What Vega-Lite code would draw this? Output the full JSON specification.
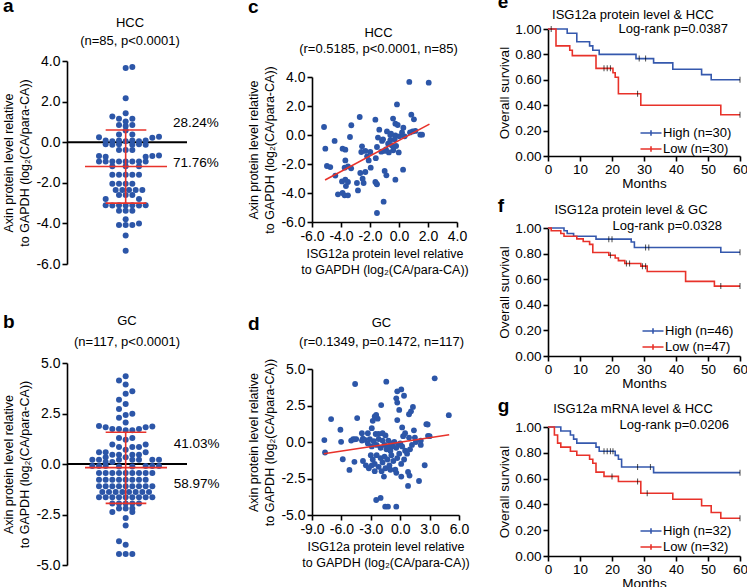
{
"$schema": "https://vega.github.io/schema/vega-lite/v6.json",
"padding": {"left": 2, "top": -8, "right": 0, "bottom": 0},
"config": {
  "font": "Liberation Sans",
  "view": {"stroke": null},
  "axis": {"grid": false, "domainColor": "#000", "domainWidth": 1.6, "tickColor": "#000", "tickWidth": 1.6, "tickSize": 5, "labelColor": "#000", "labelFontSize": 14, "labelPadding": 2, "labelOverlap": false, "labelFlush": false, "titleColor": "#000", "titleFontWeight": "normal", "titleFontSize": 12.5, "titleLineHeight": 16, "labelFont": "Liberation Sans", "titleFont": "Liberation Sans"},
  "title": {"fontWeight": "normal", "fontSize": 13, "color": "#000", "font": "Liberation Sans"},
  "legend": {"labelFontSize": 12.5, "labelColor": "#000", "labelFont": "Liberation Sans"}
},
"spacing": 27,
"resolve": {"scale": {"color": "independent"}, "legend": {"color": "independent"}},
"hconcat": [
 {
  "spacing": 4,
  "vconcat": [
   {"width": 10, "height": 1, "data": {"values": [{}]}, "mark": {"type": "point", "size": 0, "opacity": 0}},
   {
  "spacing": 42,
  "vconcat": [
   {
    "title": {"text": "a", "anchor": "start", "frame": "bounds", "fontSize": 19, "fontWeight": "bold", "offset": 1},
    "vconcat": [{
     "width": 120, "height": 203,
     "title": {"text": ["HCC", "(n=85, p<0.0001)"], "lineHeight": 18, "offset": 6, "dx": 3, "frame": "group"},
     "data": {"values": [
      {"k":"z","x":-8.8,"x2":9.2,"y":0},
      {"k":"p","x":0,"y":3.65},{"k":"p","x":1,"y":3.7},{"k":"p","x":0,"y":2.17},{"k":"p","x":0,"y":1.43},{"k":"p","x":-2,"y":1.27},{"k":"p","x":-1,"y":1.15},{"k":"p","x":1,"y":1.15},{"k":"p","x":0,"y":1.02},{"k":"p","x":-1,"y":0.85},{"k":"p","x":0,"y":0.8},{"k":"p","x":1,"y":0.85},{"k":"p","x":0,"y":0.58},{"k":"p","x":-1,"y":0.38},{"k":"p","x":1,"y":0.38},{"k":"p","x":-4,"y":0.25},{"k":"p","x":4,"y":0.22},{"k":"p","x":5,"y":0.27},{"k":"p","x":-3,"y":0.08},{"k":"p","x":-2,"y":0.05},{"k":"p","x":-1,"y":0.08},{"k":"p","x":0,"y":0.05},{"k":"p","x":1,"y":0.08},{"k":"p","x":2,"y":0.05},{"k":"p","x":3,"y":0.08},
      {"k":"p","x":-3,"y":-0.1},{"k":"p","x":-2,"y":-0.12},{"k":"p","x":-1,"y":-0.1},{"k":"p","x":1,"y":-0.12},{"k":"p","x":2,"y":-0.1},{"k":"p","x":3,"y":-0.12},
      {"k":"p","x":-1,"y":-0.38},{"k":"p","x":0,"y":-0.38},{"k":"p","x":1,"y":-0.38},
      {"k":"p","x":-4,"y":-0.68},{"k":"p","x":-3,"y":-0.72},{"k":"p","x":3,"y":-0.72},{"k":"p","x":4,"y":-0.68},{"k":"p","x":5,"y":-0.65},
      {"k":"p","x":-4,"y":-0.95},{"k":"p","x":-3,"y":-0.95},{"k":"p","x":-2,"y":-0.95},{"k":"p","x":-1,"y":-0.95},{"k":"p","x":0,"y":-0.95},{"k":"p","x":1,"y":-0.95},{"k":"p","x":2,"y":-0.95},{"k":"p","x":3,"y":-0.95},
      {"k":"p","x":-2,"y":-1.18},{"k":"p","x":0,"y":-1.18},{"k":"p","x":2,"y":-1.18},
      {"k":"p","x":-2,"y":-1.6},{"k":"p","x":-1,"y":-1.6},{"k":"p","x":0,"y":-1.6},{"k":"p","x":1,"y":-1.6},{"k":"p","x":2,"y":-1.6},
      {"k":"p","x":-2,"y":-2.05},{"k":"p","x":-1,"y":-2.05},{"k":"p","x":0,"y":-2.05},{"k":"p","x":1,"y":-2.05},
      {"k":"p","x":-1.5,"y":-2.35},{"k":"p","x":-0.5,"y":-2.35},{"k":"p","x":0.5,"y":-2.35},{"k":"p","x":1.5,"y":-2.35},{"k":"p","x":2.5,"y":-2.35},
      {"k":"p","x":-1,"y":-2.6},{"k":"p","x":0,"y":-2.6},{"k":"p","x":1,"y":-2.6},
      {"k":"p","x":-3,"y":-2.8},{"k":"p","x":2,"y":-2.8},
      {"k":"p","x":-3,"y":-3.1},{"k":"p","x":-2,"y":-3.12},{"k":"p","x":-1,"y":-3.1},{"k":"p","x":0,"y":-3.12},{"k":"p","x":1,"y":-3.1},{"k":"p","x":2,"y":-3.12},{"k":"p","x":3,"y":-3.1},
      {"k":"p","x":-1,"y":-3.38},{"k":"p","x":0,"y":-3.38},{"k":"p","x":1,"y":-3.38},
      {"k":"p","x":0,"y":-3.8},
      {"k":"p","x":-1,"y":-4.08},{"k":"p","x":0,"y":-4.08},{"k":"p","x":1,"y":-4.08},{"k":"p","x":2,"y":-4.0},
      {"k":"p","x":0,"y":-4.6},{"k":"p","x":0,"y":-5.35},
      {"k":"r","x":-6.1,"x2":6.2,"y":-1.2,"y2":-1.2},
      {"k":"r","x":-3.0,"x2":3.1,"y":0.6,"y2":0.6},
      {"k":"r","x":-3.0,"x2":3.1,"y":-3.0,"y2":-3.0},
      {"k":"r","x":0,"x2":0,"y":0.6,"y2":-3.0},
      {"k":"t","x":7.1,"y":0.97,"t":"28.24%"},
      {"k":"t","x":7.1,"y":-1.0,"t":"71.76%"}
     ]},
     "encoding": {
      "x": {"field": "x", "type": "quantitative", "scale": {"domain": [-8.8, 9.2], "nice": false, "zero": false}, "axis": null},
      "y": {"field": "y", "type": "quantitative", "scale": {"domain": [-6, 4], "nice": false, "zero": false}, "axis": {"values": [-6, -4, -2, 0, 2, 4], "labelExpr": "(datum.value<0?'-':'')+format(abs(datum.value),'.1f')", "title": ["Axin protein level relative", "to GAPDH (log₂(CA/para-CA))"], "titlePadding": 4}}
     },
     "layer": [
      {"transform": [{"filter": "datum.k=='z'"}], "mark": {"type": "rule", "color": "#000", "strokeWidth": 2}, "encoding": {"x2": {"field": "x2"}}},
      {"transform": [{"filter": "datum.k=='p'"}], "mark": {"type": "circle", "size": 36, "color": "#2c56a8", "opacity": 1}},
      {"transform": [{"filter": "datum.k=='r'"}], "mark": {"type": "rule", "color": "#e8322a", "strokeWidth": 1.6}, "encoding": {"x2": {"field": "x2"}, "y2": {"field": "y2"}}},
      {"transform": [{"filter": "datum.k=='t'"}], "mark": {"type": "text", "align": "left", "baseline": "middle", "fontSize": 13.5, "clip": false}, "encoding": {"text": {"field": "t"}}}
     ]
    }]
   },
   {
    "title": {"text": "b", "anchor": "start", "frame": "bounds", "fontSize": 19, "fontWeight": "bold", "offset": -17},
    "vconcat": [{
     "width": 120, "height": 202,
     "title": {"text": ["GC", "(n=117, p<0.0001)"], "lineHeight": 21, "offset": 7, "frame": "group"},
     "data": {"values": [
      {"k":"z","x":-8.8,"x2":9.2,"y":0},
      {"k":"p","x":0,"y":4.34},{"k":"p","x":-1,"y":4.13},{"k":"p","x":0,"y":3.93},{"k":"p","x":1,"y":3.6},{"k":"p","x":0,"y":3.48},{"k":"p","x":-1,"y":3.18},{"k":"p","x":0,"y":2.97},{"k":"p","x":-1,"y":2.72},{"k":"p","x":1,"y":2.49},{"k":"p","x":0,"y":2.43},{"k":"p","x":-1,"y":2.29},{"k":"p","x":0,"y":2.06},
      {"k":"p","x":-4,"y":1.88},{"k":"p","x":4,"y":1.86},{"k":"p","x":-3,"y":1.82},{"k":"p","x":3,"y":1.82},{"k":"p","x":-2,"y":1.73},{"k":"p","x":-1,"y":1.73},{"k":"p","x":2,"y":1.73},{"k":"p","x":0,"y":1.67},{"k":"p","x":1,"y":1.67},
      {"k":"p","x":-1,"y":1.29},{"k":"p","x":1,"y":1.29},{"k":"p","x":0,"y":1.2},
      {"k":"p","x":-2,"y":0.96},{"k":"p","x":3,"y":0.96},{"k":"p","x":-1,"y":0.84},{"k":"p","x":1,"y":0.84},{"k":"p","x":2,"y":0.84},{"k":"p","x":0,"y":0.7},
      {"k":"p","x":-4,"y":0.58},{"k":"p","x":-3,"y":0.58},{"k":"p","x":3,"y":0.58},
      {"k":"p","x":-2,"y":0.46},{"k":"p","x":-1,"y":0.46},{"k":"p","x":1,"y":0.46},{"k":"p","x":2,"y":0.46},
      {"k":"p","x":-3,"y":0.33},{"k":"p","x":0,"y":0.33},
      {"k":"p","x":-5,"y":0.21},{"k":"p","x":-4,"y":0.21},{"k":"p","x":-1,"y":0.21},{"k":"p","x":1,"y":0.21},{"k":"p","x":2,"y":0.21},{"k":"p","x":4,"y":0.21},{"k":"p","x":5,"y":0.21},
      {"k":"p","x":-3,"y":0.1},{"k":"p","x":-2,"y":0.1},
      {"k":"p","x":-5,"y":-0.1},{"k":"p","x":-4,"y":-0.1},{"k":"p","x":-3,"y":-0.1},{"k":"p","x":-1,"y":-0.12},{"k":"p","x":1,"y":-0.12},{"k":"p","x":3,"y":-0.1},{"k":"p","x":4,"y":-0.1},{"k":"p","x":5,"y":-0.1},
      {"k":"p","x":-4,"y":-0.45},{"k":"p","x":-3,"y":-0.45},{"k":"p","x":-2,"y":-0.45},{"k":"p","x":-1,"y":-0.45},{"k":"p","x":0,"y":-0.45},{"k":"p","x":1,"y":-0.45},{"k":"p","x":2,"y":-0.45},{"k":"p","x":3,"y":-0.45},{"k":"p","x":4,"y":-0.45},
      {"k":"p","x":-4,"y":-0.78},{"k":"p","x":-3,"y":-0.78},{"k":"p","x":-2,"y":-0.78},{"k":"p","x":-1,"y":-0.78},{"k":"p","x":0,"y":-0.78},{"k":"p","x":1,"y":-0.78},{"k":"p","x":2,"y":-0.78},{"k":"p","x":3,"y":-0.78},
      {"k":"p","x":-4,"y":-1.1},{"k":"p","x":-3,"y":-1.1},{"k":"p","x":-2,"y":-1.1},{"k":"p","x":-1,"y":-1.1},{"k":"p","x":0,"y":-1.1},{"k":"p","x":1,"y":-1.1},{"k":"p","x":2,"y":-1.1},{"k":"p","x":3,"y":-1.1},{"k":"p","x":4,"y":-1.1},
      {"k":"p","x":-3.5,"y":-1.38},{"k":"p","x":-2.5,"y":-1.38},{"k":"p","x":-1.5,"y":-1.38},{"k":"p","x":-0.5,"y":-1.38},{"k":"p","x":0.5,"y":-1.38},{"k":"p","x":1.5,"y":-1.38},{"k":"p","x":2.5,"y":-1.38},{"k":"p","x":3.5,"y":-1.38},
      {"k":"p","x":-4,"y":-1.65},{"k":"p","x":-3,"y":-1.65},{"k":"p","x":-2,"y":-1.65},{"k":"p","x":-1,"y":-1.65},{"k":"p","x":0,"y":-1.65},{"k":"p","x":1,"y":-1.65},{"k":"p","x":2,"y":-1.65},{"k":"p","x":3,"y":-1.65},{"k":"p","x":4,"y":-1.65},
      {"k":"p","x":-2,"y":-1.95},{"k":"p","x":-1,"y":-1.95},{"k":"p","x":0,"y":-1.95},{"k":"p","x":1,"y":-1.95},{"k":"p","x":2,"y":-1.95},
      {"k":"p","x":-1,"y":-2.2},{"k":"p","x":0,"y":-2.2},{"k":"p","x":1,"y":-2.2},
      {"k":"p","x":-2,"y":-2.38},{"k":"p","x":1,"y":-2.38},
      {"k":"p","x":0,"y":-2.67},{"k":"p","x":0,"y":-3.04},{"k":"p","x":-1,"y":-3.83},{"k":"p","x":0,"y":-4.0},
      {"k":"p","x":-1,"y":-4.45},{"k":"p","x":0,"y":-4.45},{"k":"p","x":1,"y":-4.45},
      {"k":"r","x":-6.1,"x2":6.2,"y":-0.18,"y2":-0.18},
      {"k":"r","x":-3.0,"x2":3.1,"y":1.57,"y2":1.57},
      {"k":"r","x":-3.0,"x2":3.1,"y":-1.95,"y2":-1.95},
      {"k":"r","x":0,"x2":0,"y":1.57,"y2":-1.95},
      {"k":"t","x":7.2,"y":0.97,"t":"41.03%"},
      {"k":"t","x":7.2,"y":-1.0,"t":"58.97%"}
     ]},
     "encoding": {
      "x": {"field": "x", "type": "quantitative", "scale": {"domain": [-8.8, 9.2], "nice": false, "zero": false}, "axis": null},
      "y": {"field": "y", "type": "quantitative", "scale": {"domain": [-5, 5], "nice": false, "zero": false}, "axis": {"values": [-5, -2.5, 0, 2.5, 5], "labelExpr": "(datum.value<0?'-':'')+format(abs(datum.value),'.1f')", "title": ["Axin protein level relative", "to GAPDH (log₂(CA/para-CA))"], "titlePadding": 4}}
     },
     "layer": [
      {"transform": [{"filter": "datum.k=='z'"}], "mark": {"type": "rule", "color": "#000", "strokeWidth": 2}, "encoding": {"x2": {"field": "x2"}}},
      {"transform": [{"filter": "datum.k=='p'"}], "mark": {"type": "circle", "size": 36, "color": "#2c56a8", "opacity": 1}},
      {"transform": [{"filter": "datum.k=='r'"}], "mark": {"type": "rule", "color": "#e8322a", "strokeWidth": 1.6}, "encoding": {"x2": {"field": "x2"}, "y2": {"field": "y2"}}},
      {"transform": [{"filter": "datum.k=='t'"}], "mark": {"type": "text", "align": "left", "baseline": "middle", "fontSize": 13.5, "clip": false}, "encoding": {"text": {"field": "t"}}}
     ]
    }]
   }
  ]
   }
  ]
 },
 {
  "spacing": 4,
  "vconcat": [
   {"width": 10, "height": 1, "data": {"values": [{}]}, "mark": {"type": "point", "size": 0, "opacity": 0}},
   {
  "spacing": 39,
  "vconcat": [
   {
    "title": {"text": "c", "anchor": "start", "frame": "bounds", "fontSize": 19, "fontWeight": "bold", "offset": 10},
    "vconcat": [{
     "width": 145, "height": 145,
     "title": {"text": ["HCC", "(r=0.5185, p<0.0001, n=85)"], "lineHeight": 16, "offset": 10, "dx": -6, "frame": "group"},
     "data": {"values": [
      {"k":"p","x":0.71,"y":3.66},{"k":"p","x":2.05,"y":3.61},{"k":"p","x":-0.14,"y":2.11},{"k":"p","x":-2.71,"y":1.24},{"k":"p","x":-1.63,"y":1.06},{"k":"p","x":-0.41,"y":1.13},{"k":"p","x":0.85,"y":1.4},{"k":"p","x":1.03,"y":1.08},{"k":"p","x":-5.17,"y":0.55},{"k":"p","x":-3.29,"y":0.67},
      {"k":"p","x":-0.25,"y":0.78},{"k":"p","x":-0.09,"y":0.69},{"k":"p","x":-1.36,"y":0.37},{"k":"p","x":-0.83,"y":0.25},{"k":"p","x":-0.55,"y":0.09},{"k":"p","x":-0.25,"y":-0.02},{"k":"p","x":0.02,"y":-0.09},{"k":"p","x":0.21,"y":0.18},{"k":"p","x":0.39,"y":-0.09},{"k":"p","x":0.76,"y":0.18},
      {"k":"p","x":0.94,"y":0.25},{"k":"p","x":1.13,"y":0.28},{"k":"p","x":1.47,"y":0.02},{"k":"p","x":1.59,"y":0.02},{"k":"p","x":-4.44,"y":-0.41},{"k":"p","x":-3.38,"y":-0.14},{"k":"p","x":-1.45,"y":-0.18},{"k":"p","x":-1.17,"y":-0.41},{"k":"p","x":-0.6,"y":-0.35},{"k":"p","x":-0.75,"y":-0.6},
      {"k":"p","x":-0.5,"y":-0.7},{"k":"p","x":-0.35,"y":-0.85},{"k":"p","x":-0.2,"y":-0.75},{"k":"p","x":-0.4,"y":-1.05},{"k":"p","x":-0.9,"y":-1.0},{"k":"p","x":-5.08,"y":-0.94},{"k":"p","x":-3.89,"y":-0.94},{"k":"p","x":-3.7,"y":-1.01},{"k":"p","x":-2.55,"y":-0.78},{"k":"p","x":-2.6,"y":-1.17},
      {"k":"p","x":-2.32,"y":-1.1},{"k":"p","x":-1.98,"y":-1.17},{"k":"p","x":-1.52,"y":-0.83},{"k":"p","x":-1.22,"y":-1.15},{"k":"p","x":-0.7,"y":-1.2},{"k":"p","x":-1.0,"y":-1.1},{"k":"p","x":-0.02,"y":-1.2},{"k":"p","x":-2.2,"y":-1.47},{"k":"p","x":-2.09,"y":-1.75},{"k":"p","x":-3.7,"y":-1.75},
      {"k":"p","x":-4.97,"y":-2.14},{"k":"p","x":-4.74,"y":-2.21},{"k":"p","x":-3.75,"y":-2.25},{"k":"p","x":-3.52,"y":-2.16},{"k":"p","x":-1.95,"y":-2.25},{"k":"p","x":-2.67,"y":-2.62},{"k":"p","x":-4.39,"y":-2.8},{"k":"p","x":-2.32,"y":-2.55},{"k":"p","x":-0.99,"y":-2.48},{"k":"p","x":-0.87,"y":-2.78},
      {"k":"p","x":0.28,"y":-2.39},{"k":"p","x":-0.25,"y":-3.08},{"k":"p","x":-3.93,"y":-3.2},{"k":"p","x":-3.7,"y":-3.08},{"k":"p","x":-3.52,"y":-3.24},{"k":"p","x":-3.66,"y":-3.52},{"k":"p","x":-2.9,"y":-3.31},{"k":"p","x":-2.51,"y":-3.01},{"k":"p","x":-2.44,"y":-3.31},{"k":"p","x":-1.63,"y":-3.24},
      {"k":"p","x":-1.52,"y":-3.4},{"k":"p","x":-2.83,"y":-3.82},{"k":"p","x":-4.21,"y":-4.09},{"k":"p","x":-3.89,"y":-4.0},{"k":"p","x":-3.75,"y":-4.16},{"k":"p","x":-3.52,"y":-4.16},{"k":"p","x":-1.06,"y":-4.6},{"k":"p","x":-1.52,"y":-5.38},{"k":"p","x":-0.6,"y":0.0},{"k":"p","x":-1.1,"y":-0.3},
      {"k":"p","x":0.3,"y":0.5},{"k":"p","x":-1.6,"y":-1.6},{"k":"p","x":-0.3,"y":-0.3},{"k":"p","x":-1.55,"y":-3.35},{"k":"p","x":-3.3,"y":-2.3},
      {"k":"f","x":-5.1,"y":-3.1,"x2":2.1,"y2":0.75}
     ]},
     "encoding": {
      "x": {"field": "x", "type": "quantitative", "scale": {"domain": [-6, 4], "nice": false, "zero": false}, "axis": {"values": [-6, -4, -2, 0, 2, 4], "labelExpr": "(datum.value<0?'-':'')+format(abs(datum.value),'.1f')", "title": ["ISG12a protein level relative", "to GAPDH (log₂(CA/para-CA))"], "titlePadding": 4}},
      "y": {"field": "y", "type": "quantitative", "scale": {"domain": [-6, 4], "nice": false, "zero": false}, "axis": {"values": [-6, -4, -2, 0, 2, 4], "labelExpr": "(datum.value<0?'-':'')+format(abs(datum.value),'.1f')", "title": ["Axin protein level relative", "to GAPDH (log₂(CA/para-CA))"], "titlePadding": 4}}
     },
     "layer": [
      {"transform": [{"filter": "datum.k=='p'"}], "mark": {"type": "circle", "size": 34, "color": "#2c56a8", "opacity": 1}},
      {"transform": [{"filter": "datum.k=='f'"}], "mark": {"type": "rule", "color": "#e8322a", "strokeWidth": 1.6}, "encoding": {"x2": {"field": "x2"}, "y2": {"field": "y2"}}}
     ]
    }]
   },
   {
    "title": {"text": "d", "anchor": "start", "frame": "bounds", "fontSize": 19, "fontWeight": "bold", "offset": -17},
    "vconcat": [{
     "width": 147, "height": 146,
     "title": {"text": ["GC", "(r=0.1349, p=0.1472, n=117)"], "lineHeight": 19, "offset": 9, "dx": -4, "frame": "group"},
     "data": {"values": [
      {"k":"p","x":-7.74,"y":0.13},{"k":"p","x":-7.67,"y":-0.72},{"k":"p","x":-7.05,"y":1.57},{"k":"p","x":-6.1,"y":0.84},{"k":"p","x":-6.03,"y":0.01},{"k":"p","x":-5.86,"y":-1.18},{"k":"p","x":-5.18,"y":-1.91},{"k":"p","x":-4.6,"y":3.97},{"k":"p","x":-4.49,"y":0.2},{"k":"p","x":-4.39,"y":1.64},
      {"k":"p","x":-4.67,"y":-1.36},{"k":"p","x":-5.0,"y":0.1},{"k":"p","x":-4.8,"y":0.2},{"k":"p","x":-4.65,"y":0.18},{"k":"p","x":-3.91,"y":0.6},{"k":"p","x":-3.81,"y":0.23},{"k":"p","x":-1.42,"y":4.13},{"k":"p","x":-0.3,"y":3.47},{"k":"p","x":0.11,"y":3.6},{"k":"p","x":0.39,"y":3.17},
      {"k":"p","x":-0.4,"y":2.99},{"k":"p","x":-0.3,"y":2.7},{"k":"p","x":3.52,"y":4.36},{"k":"p","x":4.96,"y":1.84},{"k":"p","x":2.67,"y":1.22},{"k":"p","x":2.84,"y":0.42},{"k":"p","x":2.1,"y":-0.2},{"k":"p","x":2.5,"y":-1.59},{"k":"p","x":1.92,"y":-2.67},{"k":"p","x":0.8,"y":-2.05},
      {"k":"p","x":0.95,"y":-2.3},{"k":"p","x":0.11,"y":-2.37},{"k":"p","x":0.8,"y":-3.01},{"k":"p","x":-0.4,"y":-2.11},{"k":"p","x":-1.66,"y":-2.37},{"k":"p","x":-2.45,"y":-3.97},{"k":"p","x":-2.0,"y":-3.83},{"k":"p","x":-1.53,"y":-4.43},{"k":"p","x":-1.25,"y":-4.43},{"k":"p","x":-0.4,"y":-4.43},
      {"k":"p","x":-2.8,"y":1.45},{"k":"p","x":-2.6,"y":1.75},{"k":"p","x":-2.45,"y":1.85},{"k":"p","x":-2.3,"y":1.6},{"k":"p","x":-1.94,"y":2.53},{"k":"p","x":-3.3,"y":0.6},{"k":"p","x":-2.9,"y":0.95},{"k":"p","x":-2.5,"y":0.55},{"k":"p","x":-2.2,"y":0.55},{"k":"p","x":-1.8,"y":0.6},
      {"k":"p","x":-1.5,"y":0.45},{"k":"p","x":-1.2,"y":0.1},{"k":"p","x":-0.9,"y":-0.1},{"k":"p","x":-0.3,"y":1.5},{"k":"p","x":-0.1,"y":2.2},{"k":"p","x":0.2,"y":1.0},{"k":"p","x":0.5,"y":0.6},{"k":"p","x":0.3,"y":0.4},{"k":"p","x":0.9,"y":1.9},{"k":"p","x":1.1,"y":2.1},
      {"k":"p","x":1.3,"y":2.4},{"k":"p","x":1.4,"y":0.8},{"k":"p","x":1.5,"y":0.3},{"k":"p","x":0.9,"y":0.3},{"k":"p","x":2.8,"y":1.2},{"k":"p","x":3.0,"y":0.4},{"k":"p","x":2.1,"y":0.1},
      {"k":"p","x":-3.9,"y":0.1},{"k":"p","x":-3.6,"y":0.15},{"k":"p","x":-3.3,"y":-0.1},{"k":"p","x":-3.1,"y":0.2},{"k":"p","x":-2.9,"y":-0.3},{"k":"p","x":-2.7,"y":0.05},{"k":"p","x":-2.4,"y":-0.2},{"k":"p","x":-2.2,"y":0.2},{"k":"p","x":-2.0,"y":-0.4},{"k":"p","x":-1.8,"y":0.1},
      {"k":"p","x":-1.6,"y":-0.2},{"k":"p","x":-1.4,"y":-0.5},{"k":"p","x":-1.2,"y":-0.3},{"k":"p","x":-1.0,"y":-0.6},{"k":"p","x":-0.8,"y":-0.3},{"k":"p","x":-0.6,"y":0.0},{"k":"p","x":-0.4,"y":-0.4},{"k":"p","x":-0.2,"y":-0.2},{"k":"p","x":0.0,"y":-0.1},{"k":"p","x":0.2,"y":-0.3},
      {"k":"p","x":0.5,"y":-0.6},{"k":"p","x":0.7,"y":-0.8},{"k":"p","x":1.0,"y":-0.5},{"k":"p","x":1.2,"y":-0.2},{"k":"p","x":1.6,"y":0.0},{"k":"p","x":-3.0,"y":-0.9},{"k":"p","x":-2.8,"y":-1.2},{"k":"p","x":-2.6,"y":-1.5},{"k":"p","x":-2.4,"y":-0.9},{"k":"p","x":-2.2,"y":-1.7},
      {"k":"p","x":-2.0,"y":-1.1},{"k":"p","x":-1.8,"y":-1.4},{"k":"p","x":-1.6,"y":-1.0},{"k":"p","x":-1.5,"y":-1.8},{"k":"p","x":-1.3,"y":-1.2},{"k":"p","x":-1.1,"y":-1.6},{"k":"p","x":-0.9,"y":-0.9},{"k":"p","x":-0.7,"y":-1.3},{"k":"p","x":-0.5,"y":-1.9},{"k":"p","x":-0.3,"y":-1.1},
      {"k":"p","x":-0.1,"y":-0.8},{"k":"p","x":0.1,"y":-1.5},{"k":"p","x":0.4,"y":-1.2},{"k":"p","x":-3.5,"y":-1.6},{"k":"p","x":-3.2,"y":-1.8},{"k":"p","x":-2.6,"y":-2.0},{"k":"p","x":-1.9,"y":-2.0},{"k":"p","x":-1.0,"y":-1.9},{"k":"p","x":-3.8,"y":-1.3},{"k":"p","x":-2.9,"y":-1.6},
      {"k":"f","x":-7.8,"y":-0.8,"x2":5.0,"y2":0.5}
     ]},
     "encoding": {
      "x": {"field": "x", "type": "quantitative", "scale": {"domain": [-9, 6], "nice": false, "zero": false}, "axis": {"values": [-9, -6, -3, 0, 3, 6], "labelExpr": "(datum.value<0?'-':'')+format(abs(datum.value),'.1f')", "title": ["ISG12a protein level relative", "to GAPDH (log₂(CA/para-CA))"], "titlePadding": 4}},
      "y": {"field": "y", "type": "quantitative", "scale": {"domain": [-5, 5], "nice": false, "zero": false}, "axis": {"values": [-5, -2.5, 0, 2.5, 5], "labelExpr": "(datum.value<0?'-':'')+format(abs(datum.value),'.1f')", "title": ["Axin protein level relative", "to GAPDH (log₂(CA/para-CA))"], "titlePadding": 4}}
     },
     "layer": [
      {"transform": [{"filter": "datum.k=='p'"}], "mark": {"type": "circle", "size": 34, "color": "#2c56a8", "opacity": 1}},
      {"transform": [{"filter": "datum.k=='f'"}], "mark": {"type": "rule", "color": "#e8322a", "strokeWidth": 1.6}, "encoding": {"x2": {"field": "x2"}, "y2": {"field": "y2"}}}
     ]
    }]
   }
  ]
   }
  ]
 },
 {
  "spacing": 0,
  "resolve": {"scale": {"color": "independent"}, "legend": {"color": "independent"}},
  "vconcat": [
   {"width": 10, "height": 1, "data": {"values": [{}]}, "mark": {"type": "point", "size": 0, "opacity": 0}},
   {
  "spacing": 7,
  "resolve": {"scale": {"color": "independent"}, "legend": {"color": "independent"}},
  "vconcat": [
   {
    "title": {"text": "e", "anchor": "start", "frame": "bounds", "fontSize": 19, "fontWeight": "bold", "offset": -3},
    "vconcat": [{
     "width": 192, "height": 127,
     "title": {"text": "ISG12a protein level & HCC", "offset": 0, "dx": -11, "frame": "group"},
     "data": {"values": [
      {"k":"l","g":"High (n=30)","x":0,"y":1},{"k":"l","g":"High (n=30)","x":6,"y":0.967},{"k":"l","g":"High (n=30)","x":9,"y":0.9},{"k":"l","g":"High (n=30)","x":13,"y":0.867},{"k":"l","g":"High (n=30)","x":14,"y":0.833},{"k":"l","g":"High (n=30)","x":16,"y":0.8},{"k":"l","g":"High (n=30)","x":27.5,"y":0.767},{"k":"l","g":"High (n=30)","x":33,"y":0.733},{"k":"l","g":"High (n=30)","x":39,"y":0.683},{"k":"l","g":"High (n=30)","x":48,"y":0.641},{"k":"l","g":"High (n=30)","x":51,"y":0.6},{"k":"l","g":"High (n=30)","x":60,"y":0.6},
      {"k":"l","g":"Low (n=30)","x":0,"y":1},{"k":"l","g":"Low (n=30)","x":2.5,"y":0.867},{"k":"l","g":"Low (n=30)","x":6.8,"y":0.833},{"k":"l","g":"Low (n=30)","x":7.6,"y":0.79},{"k":"l","g":"Low (n=30)","x":15,"y":0.69},{"k":"l","g":"Low (n=30)","x":20.3,"y":0.655},{"k":"l","g":"Low (n=30)","x":21,"y":0.62},{"k":"l","g":"Low (n=30)","x":22,"y":0.49},{"k":"l","g":"Low (n=30)","x":29,"y":0.4},{"k":"l","g":"Low (n=30)","x":54,"y":0.325},{"k":"l","g":"Low (n=30)","x":60,"y":0.325},
      {"k":"c","x":1,"y":1},{"k":"c","x":28.5,"y":0.767},{"k":"c","x":30.5,"y":0.767},{"k":"c","x":60,"y":0.6},{"k":"c","x":17.5,"y":0.69},{"k":"c","x":18.5,"y":0.69},{"k":"c","x":19.5,"y":0.69},{"k":"c","x":28,"y":0.49},{"k":"c","x":60,"y":0.325},
      {"k":"t","x":60,"y":1,"t":"Log-rank p=0.0387"}
     ]},
     "encoding": {
      "x": {"field": "x", "type": "quantitative", "scale": {"domain": [0, 60], "nice": false}, "axis": {"values": [0, 10, 20, 30, 40, 50, 60], "title": "Months", "titleFontSize": 13.5, "titlePadding": 1, "labelFontSize": 13.5, "labelPadding": 1}},
      "y": {"field": "y", "type": "quantitative", "scale": {"domain": [0, 1], "nice": false}, "axis": {"values": [0, 0.2, 0.4, 0.6, 0.8, 1], "format": ".2f", "title": "Overall survival", "titleFontSize": 13.5, "titlePadding": 3, "labelFontSize": 13.5}}
     },
     "layer": [
      {"transform": [{"filter": "datum.k=='l'"}], "mark": {"type": "line", "interpolate": "step-after", "strokeWidth": 1.6}, "encoding": {"color": {"field": "g", "type": "nominal", "scale": {"domain": ["High (n=30)", "Low (n=30)"], "range": ["#3558ad", "#e8322a"]}, "legend": {"title": null, "orient": "none", "legendX": 95, "legendY": 96, "symbolType": "M-1.5,0H1.5M0,-0.4V0.4", "symbolSize": 196, "symbolStrokeWidth": 1.6, "rowPadding": 1, "labelFontSize": 13}}}},
      {"transform": [{"filter": "datum.k=='c'"}], "mark": {"type": "tick", "orient": "vertical", "color": "#000", "size": 6, "thickness": 1}},
      {"transform": [{"filter": "datum.k=='t'"}], "mark": {"type": "text", "align": "right", "baseline": "middle", "dx": -12, "fontSize": 13}, "encoding": {"text": {"field": "t"}}}
     ]
    }]
   },
   {
  "spacing": 7,
  "resolve": {"scale": {"color": "independent"}, "legend": {"color": "independent"}},
  "vconcat": [
   {
    "title": {"text": "f", "anchor": "start", "frame": "bounds", "fontSize": 19, "fontWeight": "bold", "offset": -12},
    "vconcat": [{
     "width": 192, "height": 128,
     "title": {"text": "ISG12a protein level & GC", "offset": 3, "dx": -13, "frame": "group"},
     "data": {"values": [
      {"k":"l","g":"High (n=46)","x":0,"y":1},{"k":"l","g":"High (n=46)","x":5,"y":0.978},{"k":"l","g":"High (n=46)","x":6,"y":0.957},{"k":"l","g":"High (n=46)","x":8,"y":0.935},{"k":"l","g":"High (n=46)","x":15,"y":0.913},{"k":"l","g":"High (n=46)","x":26,"y":0.891},{"k":"l","g":"High (n=46)","x":27,"y":0.848},{"k":"l","g":"High (n=46)","x":54,"y":0.81},{"k":"l","g":"High (n=46)","x":60,"y":0.81},
      {"k":"l","g":"Low (n=47)","x":0,"y":1},{"k":"l","g":"Low (n=47)","x":1,"y":0.979},{"k":"l","g":"Low (n=47)","x":4,"y":0.957},{"k":"l","g":"Low (n=47)","x":5,"y":0.936},{"k":"l","g":"Low (n=47)","x":9,"y":0.915},{"k":"l","g":"Low (n=47)","x":11,"y":0.894},{"k":"l","g":"Low (n=47)","x":13,"y":0.872},{"k":"l","g":"Low (n=47)","x":14,"y":0.809},{"k":"l","g":"Low (n=47)","x":19,"y":0.787},{"k":"l","g":"Low (n=47)","x":21,"y":0.766},{"k":"l","g":"Low (n=47)","x":22,"y":0.745},{"k":"l","g":"Low (n=47)","x":24,"y":0.723},{"k":"l","g":"Low (n=47)","x":29,"y":0.702},{"k":"l","g":"Low (n=47)","x":31,"y":0.66},{"k":"l","g":"Low (n=47)","x":43,"y":0.583},{"k":"l","g":"Low (n=47)","x":52,"y":0.546},{"k":"l","g":"Low (n=47)","x":60,"y":0.546},
      {"k":"c","x":19,"y":0.913},{"k":"c","x":20,"y":0.913},{"k":"c","x":30.5,"y":0.848},{"k":"c","x":31.5,"y":0.848},{"k":"c","x":60,"y":0.81},{"k":"c","x":19.5,"y":0.787},{"k":"c","x":24.5,"y":0.723},{"k":"c","x":25.5,"y":0.723},{"k":"c","x":29.5,"y":0.702},{"k":"c","x":30.5,"y":0.702},{"k":"c","x":54,"y":0.546},{"k":"c","x":60,"y":0.546},
      {"k":"t","x":60,"y":1,"t":"Log-rank p=0.0328"}
     ]},
     "encoding": {
      "x": {"field": "x", "type": "quantitative", "scale": {"domain": [0, 60], "nice": false}, "axis": {"values": [0, 10, 20, 30, 40, 50, 60], "title": "Months", "titleFontSize": 13.5, "titlePadding": 1, "labelFontSize": 13.5, "labelPadding": 1}},
      "y": {"field": "y", "type": "quantitative", "scale": {"domain": [0, 1], "nice": false}, "axis": {"values": [0, 0.2, 0.4, 0.6, 0.8, 1], "format": ".2f", "title": "Overall survival", "titleFontSize": 13.5, "titlePadding": 3, "labelFontSize": 13.5}}
     },
     "layer": [
      {"transform": [{"filter": "datum.k=='l'"}], "mark": {"type": "line", "interpolate": "step-after", "strokeWidth": 1.6}, "encoding": {"color": {"field": "g", "type": "nominal", "scale": {"domain": ["High (n=46)", "Low (n=47)"], "range": ["#3558ad", "#e8322a"]}, "legend": {"title": null, "orient": "none", "legendX": 97, "legendY": 95, "symbolType": "M-1.5,0H1.5M0,-0.4V0.4", "symbolSize": 196, "symbolStrokeWidth": 1.6, "rowPadding": 1, "labelFontSize": 13}}}},
      {"transform": [{"filter": "datum.k=='c'"}], "mark": {"type": "tick", "orient": "vertical", "color": "#000", "size": 6, "thickness": 1}},
      {"transform": [{"filter": "datum.k=='t'"}], "mark": {"type": "text", "align": "right", "baseline": "middle", "dx": -18, "dy": -2, "fontSize": 13}, "encoding": {"text": {"field": "t"}}}
     ]
    }]
   },
   {
    "title": {"text": "g", "anchor": "start", "frame": "bounds", "fontSize": 19, "fontWeight": "bold", "offset": -13},
    "vconcat": [{
     "width": 192, "height": 129,
     "title": {"text": "ISG12a mRNA level & HCC", "offset": 3, "dx": -11, "frame": "group"},
     "data": {"values": [
      {"k":"l","g":"High (n=32)","x":0,"y":1},{"k":"l","g":"High (n=32)","x":4,"y":0.969},{"k":"l","g":"High (n=32)","x":7,"y":0.938},{"k":"l","g":"High (n=32)","x":8,"y":0.906},{"k":"l","g":"High (n=32)","x":9,"y":0.875},{"k":"l","g":"High (n=32)","x":15,"y":0.844},{"k":"l","g":"High (n=32)","x":16,"y":0.812},{"k":"l","g":"High (n=32)","x":21,"y":0.78},{"k":"l","g":"High (n=32)","x":22,"y":0.75},{"k":"l","g":"High (n=32)","x":23,"y":0.69},{"k":"l","g":"High (n=32)","x":33,"y":0.646},{"k":"l","g":"High (n=32)","x":60,"y":0.646},
      {"k":"l","g":"Low (n=32)","x":0,"y":1},{"k":"l","g":"Low (n=32)","x":2,"y":0.938},{"k":"l","g":"Low (n=32)","x":3,"y":0.875},{"k":"l","g":"Low (n=32)","x":4,"y":0.844},{"k":"l","g":"Low (n=32)","x":7,"y":0.812},{"k":"l","g":"Low (n=32)","x":9,"y":0.781},{"k":"l","g":"Low (n=32)","x":13,"y":0.75},{"k":"l","g":"Low (n=32)","x":14,"y":0.719},{"k":"l","g":"Low (n=32)","x":15,"y":0.65},{"k":"l","g":"Low (n=32)","x":17.5,"y":0.617},{"k":"l","g":"Low (n=32)","x":22,"y":0.578},{"k":"l","g":"Low (n=32)","x":29,"y":0.487},{"k":"l","g":"Low (n=32)","x":39,"y":0.44},{"k":"l","g":"Low (n=32)","x":48,"y":0.39},{"k":"l","g":"Low (n=32)","x":51,"y":0.337},{"k":"l","g":"Low (n=32)","x":54,"y":0.293},{"k":"l","g":"Low (n=32)","x":60,"y":0.293},
      {"k":"c","x":17.5,"y":0.812},{"k":"c","x":18.5,"y":0.812},{"k":"c","x":19.5,"y":0.812},{"k":"c","x":20.3,"y":0.812},{"k":"c","x":28,"y":0.69},{"k":"c","x":32,"y":0.69},{"k":"c","x":60,"y":0.646},{"k":"c","x":20,"y":0.617},{"k":"c","x":28,"y":0.578},{"k":"c","x":31,"y":0.487},{"k":"c","x":60,"y":0.293},
      {"k":"t","x":60,"y":1,"t":"Log-rank p=0.0206"}
     ]},
     "encoding": {
      "x": {"field": "x", "type": "quantitative", "scale": {"domain": [0, 60], "nice": false}, "axis": {"values": [0, 10, 20, 30, 40, 50, 60], "title": "Months", "titleFontSize": 13.5, "titlePadding": 1, "labelFontSize": 13.5, "labelPadding": 1}},
      "y": {"field": "y", "type": "quantitative", "scale": {"domain": [0, 1], "nice": false}, "axis": {"values": [0, 0.2, 0.4, 0.6, 0.8, 1], "format": ".2f", "title": "Overall survival", "titleFontSize": 13.5, "titlePadding": 3, "labelFontSize": 13.5}}
     },
     "layer": [
      {"transform": [{"filter": "datum.k=='l'"}], "mark": {"type": "line", "interpolate": "step-after", "strokeWidth": 1.6}, "encoding": {"color": {"field": "g", "type": "nominal", "scale": {"domain": ["High (n=32)", "Low (n=32)"], "range": ["#3558ad", "#e8322a"]}, "legend": {"title": null, "orient": "none", "legendX": 95, "legendY": 96, "symbolType": "M-1.5,0H1.5M0,-0.4V0.4", "symbolSize": 196, "symbolStrokeWidth": 1.6, "rowPadding": 1, "labelFontSize": 13}}}},
      {"transform": [{"filter": "datum.k=='c'"}], "mark": {"type": "tick", "orient": "vertical", "color": "#000", "size": 6, "thickness": 1}},
      {"transform": [{"filter": "datum.k=='t'"}], "mark": {"type": "text", "align": "right", "baseline": "middle", "dx": -11, "dy": -2, "fontSize": 13}, "encoding": {"text": {"field": "t"}}}
     ]
    }]
   }
  ]
   }
  ]
   }
  ]
 }
]
}
